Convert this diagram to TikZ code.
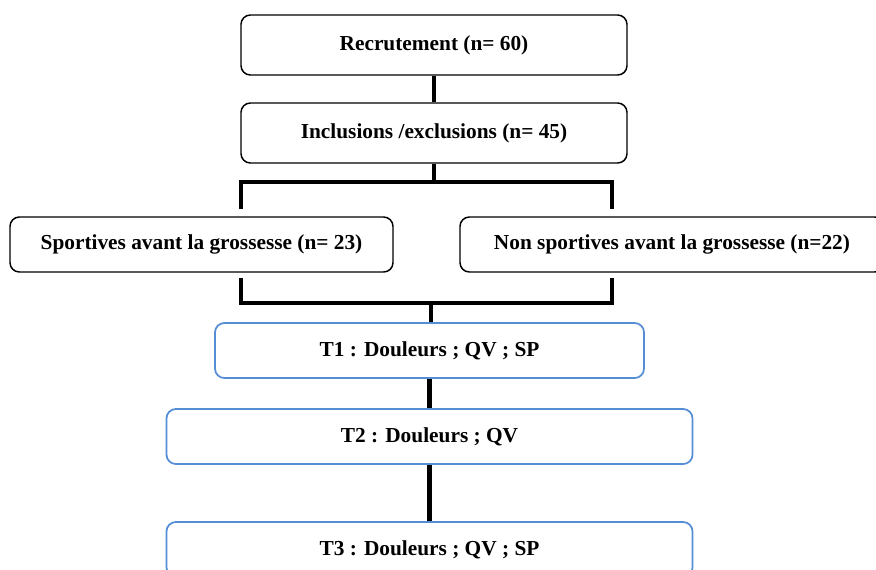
\documentclass[tikz,border=0pt]{standalone}
\usepackage{fontspec}
\setmainfont{Liberation Serif}
\usetikzlibrary{calc}
\definecolor{stepblue}{RGB}{85,142,213}
\tikzset{
  box/.style={draw,line width=1.1pt,rounded corners=7pt,inner sep=0pt,
    font=\fontsize{16pt}{19pt}\selectfont\bfseries},
  bluebox/.style={box,draw=stepblue,line width=1.3pt},
  link/.style={line width=3.3pt}
}
\begin{document}
\begin{tikzpicture}[x=0.75pt,y=-0.75pt]
\clip (0,0) rectangle (876,569);
\node[box,minimum width=0.75*386pt,minimum height=0.75*60pt] (recr) at (434,45) {Recrutement (n= 60)};
\node[box,minimum width=0.75*386pt,minimum height=0.75*60pt] (incl) at (434,133) {Inclusions /exclusions (n= 45)};
\node[box,minimum width=0.75*383pt,minimum height=0.75*55pt] (sport) at (201.5,244.5) {Sportives avant la grossesse (n= 23)};
\node[box,minimum width=0.75*424pt,minimum height=0.75*55pt] (nonsport) at (672,244.5) {Non sportives avant la grossesse (n=22)};
\node[bluebox,minimum width=0.75*429pt,minimum height=0.75*55pt] (t1) at (429.5,350.5) {T1 : Douleurs ; QV ; SP};
\node[bluebox,minimum width=0.75*526pt,minimum height=0.75*55pt] (t2) at (429.5,436.5) {T2 : Douleurs ; QV};
\node[bluebox,minimum width=0.75*526pt,minimum height=0.75*55pt] (t3) at (429.5,549.5) {T3 : Douleurs ; QV ; SP};
\coordinate (split) at (434,182);
\coordinate (topL) at (241,209);
\coordinate (topR) at (612,209);
\coordinate (botL) at (241,278);
\coordinate (botR) at (612,278);
\coordinate (merge) at (431,303);
\draw[link] (recr) -- (incl);
\draw[link] (incl) -- (split);
\draw[link] (topL) |- (split) -| (topR);
\draw[link] (botL) |- (merge) -| (botR);
\draw[link] (merge) -- (merge |- t1.north);
\draw[link] (t1) -- (t2);
\draw[link] (t2) -- (t3);
\end{tikzpicture}
\end{document}
